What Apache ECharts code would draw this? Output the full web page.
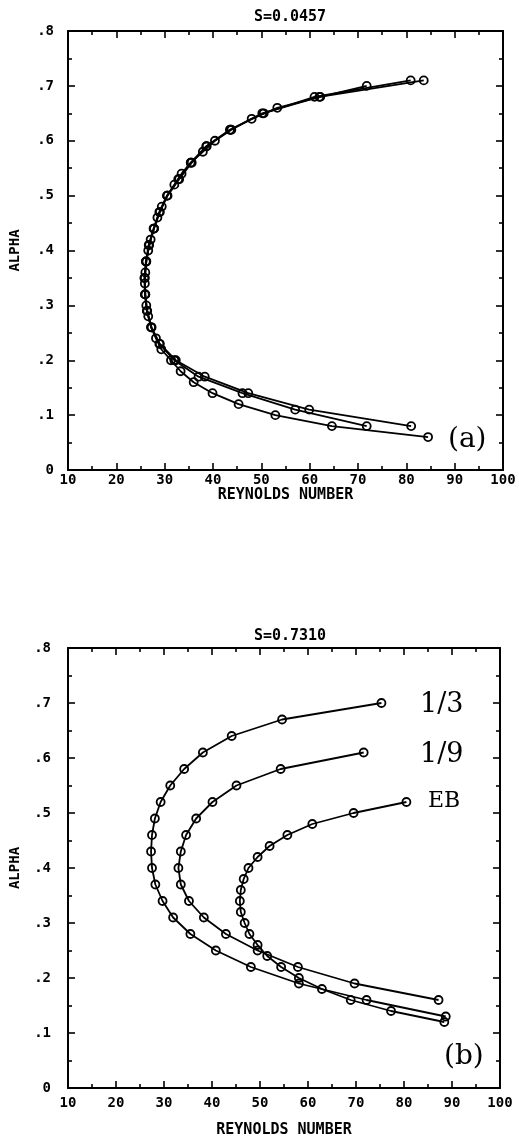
<!DOCTYPE html>
<html>
<head>
<meta charset="utf-8">
<script src="https://cdn.jsdelivr.net/npm/echarts@6/dist/echarts.min.js"></script>
<style>
  html, body { margin: 0; padding: 0; background: #fff; }
  #chart { width: 519px; height: 1140px; }
</style>
</head>
<body>
<div id="chart"></div>
<script>
// Neutral curves, alpha vs Reynolds number.
// Panel (a): S = 0.0457, three nearly coincident curves.
const a1Alpha = [0.06, 0.08, 0.10, 0.12, 0.14, 0.16, 0.18, 0.20, 0.22, 0.24, 0.26, 0.28, 0.30, 0.32, 0.34, 0.36, 0.38, 0.40, 0.42, 0.44, 0.46, 0.48, 0.50, 0.52, 0.54, 0.56, 0.58, 0.60, 0.62, 0.64, 0.66, 0.68, 0.70];
const a1Re    = [84.5, 64.6, 52.9, 45.3, 39.9, 36.0, 33.3, 31.3, 29.3, 28.2, 27.2, 26.6, 26.2, 26.0, 25.9, 26.0, 26.2, 26.6, 27.1, 27.8, 28.5, 29.4, 30.5, 32.0, 33.5, 35.4, 37.9, 40.4, 43.8, 48.0, 53.3, 62.2, 71.8];

const a2Alpha = [0.08, 0.11, 0.14, 0.17, 0.20, 0.23, 0.26, 0.29, 0.32, 0.35, 0.38, 0.41, 0.44, 0.47, 0.50, 0.53, 0.56, 0.59, 0.62, 0.65, 0.68, 0.71];
const a2Re    = [81.0, 59.9, 47.3, 38.3, 32.3, 29.0, 27.3, 26.4, 26.0, 25.9, 26.2, 26.8, 27.8, 29.0, 30.6, 33.0, 35.6, 38.7, 43.6, 50.5, 61.0, 80.9];

const a3Alpha = [0.08, 0.11, 0.14, 0.17, 0.20, 0.23, 0.26, 0.29, 0.32, 0.35, 0.38, 0.41, 0.44, 0.47, 0.50, 0.53, 0.56, 0.59, 0.62, 0.65, 0.68, 0.71];
const a3Re    = [71.8, 57.0, 46.1, 37.0, 32.0, 28.9, 27.2, 26.3, 25.9, 25.8, 26.1, 26.7, 27.7, 28.9, 30.5, 32.8, 35.4, 38.6, 43.5, 50.2, 62.0, 83.6];

// Panel (b): S = 0.7310, curves labelled 1/3, 1/9 and EB.
const bThirdAlpha = [0.70, 0.67, 0.64, 0.61, 0.58, 0.55, 0.52, 0.49, 0.46, 0.43, 0.40, 0.37, 0.34, 0.31, 0.28, 0.25, 0.22, 0.19, 0.16, 0.13];
const bThirdRe    = [75.3, 54.6, 44.1, 38.1, 34.2, 31.3, 29.3, 28.1, 27.5, 27.3, 27.5, 28.2, 29.7, 31.9, 35.5, 40.8, 48.1, 58.1, 72.2, 88.7];

const bNinthAlpha = [0.61, 0.58, 0.55, 0.52, 0.49, 0.46, 0.43, 0.40, 0.37, 0.34, 0.31, 0.28, 0.25, 0.22, 0.19, 0.16];
const bNinthRe    = [71.6, 54.3, 45.1, 40.1, 36.7, 34.6, 33.5, 33.0, 33.5, 35.2, 38.3, 42.9, 49.5, 57.9, 69.7, 87.2];

const bEbAlpha = [0.52, 0.50, 0.48, 0.46, 0.44, 0.42, 0.40, 0.38, 0.36, 0.34, 0.32, 0.30, 0.28, 0.26, 0.24, 0.22, 0.20, 0.18, 0.16, 0.14, 0.12];
const bEbRe    = [80.5, 69.5, 60.9, 55.7, 52.0, 49.5, 47.6, 46.6, 46.0, 45.8, 46.0, 46.8, 47.8, 49.5, 51.5, 54.4, 58.1, 62.9, 68.9, 77.3, 88.4];

// Axis ticks
const reTicks = [10, 20, 30, 40, 50, 60, 70, 80, 90, 100];
const alphaTickLabels = ['0', '.1', '.2', '.3', '.4', '.5', '.6', '.7', '.8'];

const panelTitles = ['S=0.0457', 'S=0.7310'];
const panelTags = ['(a)', '(b)'];
const curveTags = ['1/3', '1/9', 'EB'];

const monoFont = "'DejaVu Sans Mono', monospace";
const serifFont = "'DejaVu Serif', 'Liberation Serif', serif";

function pairs(re, alpha) {
  return re.map((r, i) => [r, alpha[i]]);
}

function xAxisFor(grid, position, withLabels, labelMargin, nameGap) {
  return {
    type: 'value', gridIndex: grid, position: position,
    min: reTicks[0], max: reTicks[reTicks.length - 1], interval: 10,
    axisLine: { show: true, onZero: false, lineStyle: { color: '#000', width: 2 } },
    axisTick: { show: true, inside: true, length: 7, lineStyle: { color: '#000', width: 1.6 } },
    minorTick: { show: true, splitNumber: 2, length: 4, lineStyle: { color: '#000', width: 1.6 } },
    splitLine: { show: false }, minorSplitLine: { show: false },
    axisLabel: {
      show: withLabels, color: '#000', fontFamily: monoFont, fontWeight: 'bold',
      fontSize: 14, margin: labelMargin
    },
    name: withLabels ? 'REYNOLDS NUMBER' : '',
    nameLocation: 'middle', nameGap: nameGap,
    nameTextStyle: { color: '#000', fontFamily: monoFont, fontSize: 15, fontWeight: 'bold' }
  };
}

function yAxisFor(grid, position, withLabels, margin) {
  return {
    type: 'value', gridIndex: grid, position: position,
    min: 0, max: 0.8, interval: 0.1,
    axisLine: { show: true, onZero: false, lineStyle: { color: '#000', width: 2 } },
    axisTick: { show: true, inside: true, length: 7, lineStyle: { color: '#000', width: 1.6 } },
    minorTick: { show: true, splitNumber: 2, length: 4, lineStyle: { color: '#000', width: 1.6 } },
    splitLine: { show: false }, minorSplitLine: { show: false },
    axisLabel: {
      show: withLabels, color: '#000', fontFamily: monoFont, fontWeight: 'bold',
      fontSize: 14, margin: margin,
      formatter: v => alphaTickLabels[Math.round(v * 10)]
    },
    name: withLabels ? 'ALPHA' : '',
    nameLocation: 'middle', nameGap: 46, nameRotate: 90,
    nameTextStyle: { color: '#000', fontFamily: monoFont, fontSize: 14, fontWeight: 'bold' }
  };
}

function curve(grid, re, alpha) {
  return {
    type: 'line', xAxisIndex: grid * 2, yAxisIndex: grid * 2,
    data: pairs(re, alpha),
    symbol: 'circle', symbolSize: 8,
    itemStyle: { color: 'rgba(255,255,255,0)', borderColor: '#000', borderWidth: 1.8 },
    lineStyle: { color: '#000', width: 1.8 },
    animation: false, silent: true
  };
}

const chart = echarts.init(document.getElementById('chart'), null, { renderer: 'canvas' });

chart.setOption({
  backgroundColor: '#fff',
  animation: false,
  title: [
    { text: panelTitles[0], left: 285, top: 5, textAlign: 'center',
      textStyle: { fontFamily: monoFont, fontSize: 15, fontWeight: 'bold', color: '#000' } },
    { text: panelTitles[1], left: 285, top: 624, textAlign: 'center',
      textStyle: { fontFamily: monoFont, fontSize: 15, fontWeight: 'bold', color: '#000' } }
  ],
  grid: [
    { left: 66, right: 16, top: 31, bottom: 670 },
    { left: 63, right: 19, top: 648, bottom: 52 }
  ],
  xAxis: [
    xAxisFor(0, 'bottom', true, 3, 15),
    xAxisFor(0, 'top', false, 0, 0),
    xAxisFor(1, 'bottom', true, 8, 35),
    xAxisFor(1, 'top', false, 0, 0)
  ],
  yAxis: [
    yAxisFor(0, 'left', true, 14),
    yAxisFor(0, 'right', false, 0),
    yAxisFor(1, 'left', true, 17),
    yAxisFor(1, 'right', false, 0)
  ],
  series: [
    curve(0, a1Re, a1Alpha),
    curve(0, a2Re, a2Alpha),
    curve(0, a3Re, a3Alpha),
    curve(1, bThirdRe, bThirdAlpha),
    curve(1, bNinthRe, bNinthAlpha),
    curve(1, bEbRe, bEbAlpha)
  ],
  graphic: [
    { type: 'text', left: 448, top: 426,
      style: { text: panelTags[0], font: '28px ' + serifFont, fill: '#000' } },
    { type: 'text', left: 444, top: 1043,
      style: { text: panelTags[1], font: '28px ' + serifFont, fill: '#000' } },
    { type: 'text', left: 420, top: 691,
      style: { text: curveTags[0], font: '27px ' + serifFont, fill: '#000' } },
    { type: 'text', left: 420, top: 741,
      style: { text: curveTags[1], font: '27px ' + serifFont, fill: '#000' } },
    { type: 'text', left: 428, top: 790,
      style: { text: curveTags[2], font: '22px ' + serifFont, fill: '#000' } }
  ]
});
</script>
</body>
</html>
